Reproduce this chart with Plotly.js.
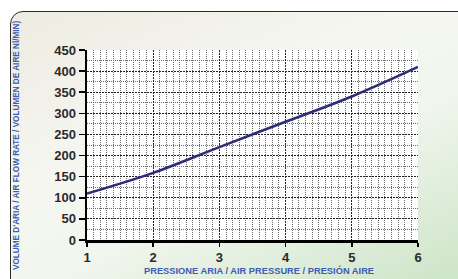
<!DOCTYPE html>
<html>
<head>
<meta charset="utf-8">
<script src="https://cdn.plot.ly/plotly-3.0.1.min.js"></script>
<style>
html,body{margin:0;padding:0;background:#ffffff;overflow:hidden;}
#bg{position:absolute;left:10px;top:11px;width:470px;height:290px;border:1.5px solid #2a2a2a;border-radius:13px;
background:linear-gradient(155deg,#ecece2 0%,#f6f6f1 35%,#f2f6ef 55%,#dcecd7 78%,#c6e1c1 100%);}
#chart{position:absolute;left:0;top:0;width:458px;height:279px;}
</style>
</head>
<body>
<div id="bg"></div>
<div id="chart"></div>
<script>
var pressure = [1, 2, 3, 4, 5, 6];
var flowRate = [110, 159, 220, 280, 340, 410];
var xTitle = "PRESSIONE ARIA / AIR PRESSURE / PRESIÓN AIRE";
var yTitle = "VOLUME D'ARIA / AIR FLOW RATE / VOLUMEN DE AIRE Nl/MIN)";

var trace = {
  x: pressure, y: flowRate, mode: 'lines', type: 'scatter',
  line: {color: '#2f2c78', width: 2.6, shape: 'spline'},
  hoverinfo: 'skip'
};

var tickFont = {family: 'Liberation Sans, Arial, sans-serif', size: 13, color: '#2b2b2b', weight: 'bold'};
var titleFont = {family: 'Liberation Sans, Arial, sans-serif', size: 9.3, color: '#3d5cb3', weight: 'bold'};

var layout = {
  width: 458, height: 279,
  margin: {l: 87, r: 40, t: 50, b: 39, pad: 0},
  paper_bgcolor: 'rgba(0,0,0,0)',
  plot_bgcolor: '#ffffff',
  showlegend: false,
  xaxis: {
    range: [1, 6], dtick: 1, tick0: 1,
    showline: true, linecolor: '#000', linewidth: 2.5,
    ticks: 'outside', ticklen: 4, tickcolor: '#000', tickwidth: 1.5,
    showgrid: true, gridcolor: '#222', griddash: '2px,1px', gridwidth: 1,
    zeroline: false, tickfont: tickFont,
    minor: {dtick: 0.1, showgrid: true, gridcolor: '#6a6a6a', griddash: '1px,1px', gridwidth: 1, ticks: ''}
  },
  yaxis: {
    range: [0, 450], dtick: 50, tick0: 0,
    showline: true, linecolor: '#000', linewidth: 2.5,
    ticks: 'outside', ticklen: 6, tickcolor: '#000', tickwidth: 1.5,
    showgrid: true, gridcolor: '#222', griddash: '2px,1px', gridwidth: 1,
    zeroline: false, tickfont: tickFont,
    minor: {dtick: 25, showgrid: true, gridcolor: '#6a6a6a', griddash: '1px,1px', gridwidth: 1, ticks: ''}
  },
  annotations: [
    {text: xTitle, xref: 'paper', yref: 'paper', x: 0.521, y: -0.158, xanchor: 'center', yanchor: 'middle',
     showarrow: false, font: titleFont},
    {text: yTitle, xref: 'paper', yref: 'paper', x: -0.2145, y: 0.5, xanchor: 'center', yanchor: 'middle',
     textangle: -90, showarrow: false, font: {family: titleFont.family, size: 8.2, color: titleFont.color, weight: 'bold'}}
  ]
};

Plotly.newPlot('chart', [trace], layout, {displayModeBar: false, staticPlot: true});
</script>
</body>
</html>
